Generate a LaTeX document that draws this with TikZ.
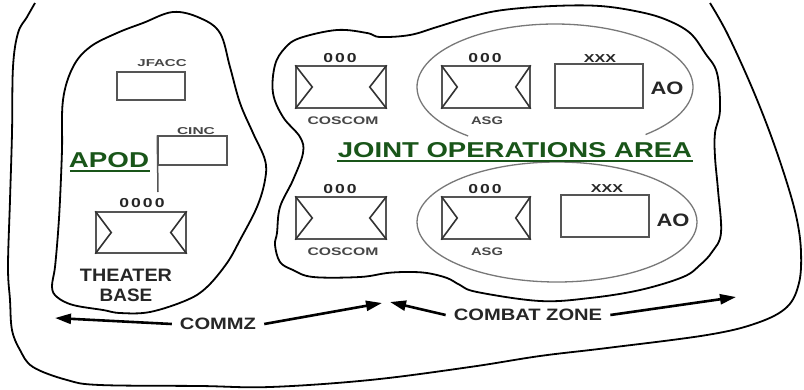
\documentclass[tikz,border=0pt]{standalone}
\usepackage{fontspec}
\setmainfont{Liberation Sans}
\usepackage{graphicx}
\usetikzlibrary{arrows.meta}
\definecolor{boxgray}{RGB}{85,85,85}
\definecolor{lblgray}{RGB}{70,70,70}
\definecolor{ellgray}{RGB}{120,120,120}
\definecolor{joagreen}{RGB}{25,85,25}
\newcommand{\sx}[2]{\scalebox{#1}[1]{#2}}
\newcommand{\ech}[1]{\sx{1.35}{#1}}
\begin{document}
\begin{tikzpicture}[x=1pt,y=-1pt,
  boundary/.style={line width=1.8pt, black, line join=round},
  ell/.style={line width=1.3pt, ellgray},
  unitbox/.style={draw=boxgray, line width=1.5pt, inner sep=0pt, minimum width=90pt, minimum height=42pt},
  tri/.style={draw=black!80, line width=1.6pt, line join=miter},
  small/.style={inner sep=0pt, text=lblgray, font=\bfseries\fontsize{11}{11}\selectfont},
  echelon/.style={inner sep=0pt, text=black!85, font=\bfseries\fontsize{13}{13}\selectfont},
  big/.style={inner sep=0pt, text=black!85, font=\bfseries\fontsize{18}{18}\selectfont},
  zone/.style={inner ysep=0pt, inner xsep=8pt, text=black!85, font=\bfseries\fontsize{16.5}{16.5}\selectfont},
  title/.style={inner sep=0pt, text=joagreen, font=\bfseries\fontsize{21.5}{21.5}\selectfont},
  uline/.style={joagreen, line width=2pt},
  arr/.style={line width=2.6pt, -{Triangle[length=16pt,width=10pt]}},
]
\useasboundingbox (0,0) rectangle (804,389);
\fill[white] (0,0) rectangle (804,389);

% outer boundary (open at top)
\draw[boundary] plot[smooth, tension=0.6] coordinates {(35,3) (27,17) (18,33) (13,67) (12,133) (10,200) (8,267) (10,300) (12,330) (20,350) (33,367) (67,380) (100,385) (200,386) (270,387) (370,380) (470,367) (540,356) (607,348) (707,335) (757,323) (787,307) (799,283) (801,252) (797,220) (787,183) (770,133) (750,83) (727,33) (710,3)};

% APOD / theater base area
\draw[boundary] plot[smooth cycle, tension=0.6] coordinates {(173,12) (200,18) (220,33) (230,67) (240,103) (253,133) (265,160) (265,180) (257,207) (240,240) (227,263) (207,287) (187,300) (150,312) (120,313) (103,310) (73,305) (57,297) (52,287) (55,267) (58,233) (60,200) (62,150) (63,100) (73,67) (90,47) (117,33) (143,23)};

% joint operations area
\draw[boundary] plot[smooth cycle, tension=0.6] coordinates {(275,65) (285,48) (300,38) (337,30) (367,33) (380,37) (410,35) (437,27) (470,17) (503,10) (553,6) (600,6) (640,12) (667,20) (690,33) (705,53) (717,73) (720,110) (715,133) (715,157) (718,190) (721,233) (712,252) (700,265) (683,277) (640,290) (590,298) (540,301) (477,292) (460,285) (447,278) (427,273) (407,272) (387,273) (360,277) (313,277) (293,270) (280,262) (275,245) (277,233) (280,207) (293,180) (303,153) (300,137) (283,117) (273,93)};

% AO ellipses
\draw[ell] plot[smooth, domain=129:409, samples=90] ({555+138*cos(\x)}, {87+63*sin(\x)});
\draw[ell] plot[smooth cycle, domain=0:356, samples=90] ({557+140*cos(\x)}, {222+60*sin(\x)});

% left area units
\node[unitbox, minimum width=68pt, minimum height=28pt] (jfacc) at (151,86) {};
\node[small, font=\bfseries\fontsize{10}{10}\selectfont] (jfacclbl) at (162,63) {\sx{1.5}{JFACC}};
\node[unitbox, minimum width=69pt, minimum height=29pt] (cinc) at (192.5,150.5) {};
\node[small, font=\bfseries\fontsize{10}{10}\selectfont] (cinclbl) at (196,131) {\sx{1.55}{CINC}};
\coordinate (cincend) at (158,192);
\draw[draw=boxgray, line width=1.5pt] (cinc.north west) -- (cincend);

\node[unitbox, minimum width=90pt, minimum height=41pt] (tb) at (141,232.5) {};
\draw[tri] (tb.north west) -- ([xshift=16pt]tb.west) -- (tb.south west);
\draw[tri] (tb.north east) -- ([xshift=-16pt]tb.east) -- (tb.south east);
\node[echelon] (tbech) at (142,203) {\ech{0\kern1.5pt0\kern1.5pt0\kern1.5pt0}};
\node[big] (theater) at (126,275) {\sx{1.1}{THEATER}};
\node[big] (base) at (126,295) {\sx{1.05}{BASE}};

\node[title] (apod) at (109,160) {\sx{1.29}{APOD}};
\coordinate (apodul1) at (70,171);
\coordinate (apodul2) at (150,171);
\draw[uline] (apodul1) -- (apodul2);

% JOA units, top row
\node[unitbox] (cos1) at (341,87) {};
\draw[tri] (cos1.north west) -- ([xshift=17pt]cos1.west) -- (cos1.south west);
\draw[tri] (cos1.north east) -- ([xshift=-17pt]cos1.east) -- (cos1.south east);
\node[echelon] (cos1ech) at (340,58) {\ech{0\kern1.5pt0\kern1.5pt0}};
\node[small] (cos1lbl) at (343,121) {\sx{1.43}{COSCOM}};

\node[unitbox, minimum width=88pt] (asg1) at (486,87) {};
\draw[tri] (asg1.north west) -- ([xshift=16pt]asg1.west) -- (asg1.south west);
\draw[tri] (asg1.north east) -- ([xshift=-15pt]asg1.east) -- (asg1.south east);
\node[echelon] (asg1ech) at (485,58) {\ech{0\kern1.5pt0\kern1.5pt0}};
\node[small] (asg1lbl) at (487,121) {\sx{1.34}{ASG}};

\node[unitbox, minimum width=88pt, minimum height=44pt] (xxx1) at (599,86) {};
\node[small, text=black!85, font=\bfseries\fontsize{11.5}{11.5}\selectfont] (xxx1lbl) at (600,59) {\sx{1.4}{XXX}};
\node[big] (ao1) at (667,88) {\sx{1.22}{AO}};

% JOA units, bottom row
\node[unitbox] (cos2) at (341,218) {};
\draw[tri] (cos2.north west) -- ([xshift=17pt]cos2.west) -- (cos2.south west);
\draw[tri] (cos2.north east) -- ([xshift=-17pt]cos2.east) -- (cos2.south east);
\node[echelon] (cos2ech) at (340,189) {\ech{0\kern1.5pt0\kern1.5pt0}};
\node[small] (cos2lbl) at (343,252) {\sx{1.43}{COSCOM}};

\node[unitbox, minimum width=88pt] (asg2) at (486,218) {};
\draw[tri] (asg2.north west) -- ([xshift=16pt]asg2.west) -- (asg2.south west);
\draw[tri] (asg2.north east) -- ([xshift=-15pt]asg2.east) -- (asg2.south east);
\node[echelon] (asg2ech) at (485,189) {\ech{0\kern1.5pt0\kern1.5pt0}};
\node[small] (asg2lbl) at (487,252) {\sx{1.34}{ASG}};

\node[unitbox, minimum width=88pt, minimum height=42pt] (xxx2) at (605,216) {};
\node[small, text=black!85, font=\bfseries\fontsize{11.5}{11.5}\selectfont] (xxx2lbl) at (607,189) {\sx{1.4}{XXX}};
\node[big] (ao2) at (673,220) {\sx{1.22}{AO}};

% JOA title
\node[title] (joa) at (515,150) {\sx{1.28}{JOINT OPERATIONS AREA}};
\coordinate (joaul1) at (337,161);
\coordinate (joaul2) at (693,161);
\draw[uline] (joaul1) -- (joaul2);

% zones
\node[zone] (commz) at (218,324) {\sx{1.22}{COMMZ}};
\node[zone] (combat) at (528,315) {\sx{1.22}{COMBAT ZONE}};
\coordinate (commzL) at (55,318);
\coordinate (commzR) at (382,303);
\coordinate (combatL) at (390,302);
\coordinate (combatR) at (736,297);
\draw[arr] (commz.west) -- (commzL);
\draw[arr] (commz.east) -- (commzR);
\draw[arr] (combat.west) -- (combatL);
\draw[arr] (combat.east) -- (combatR);
\end{tikzpicture}
\end{document}
